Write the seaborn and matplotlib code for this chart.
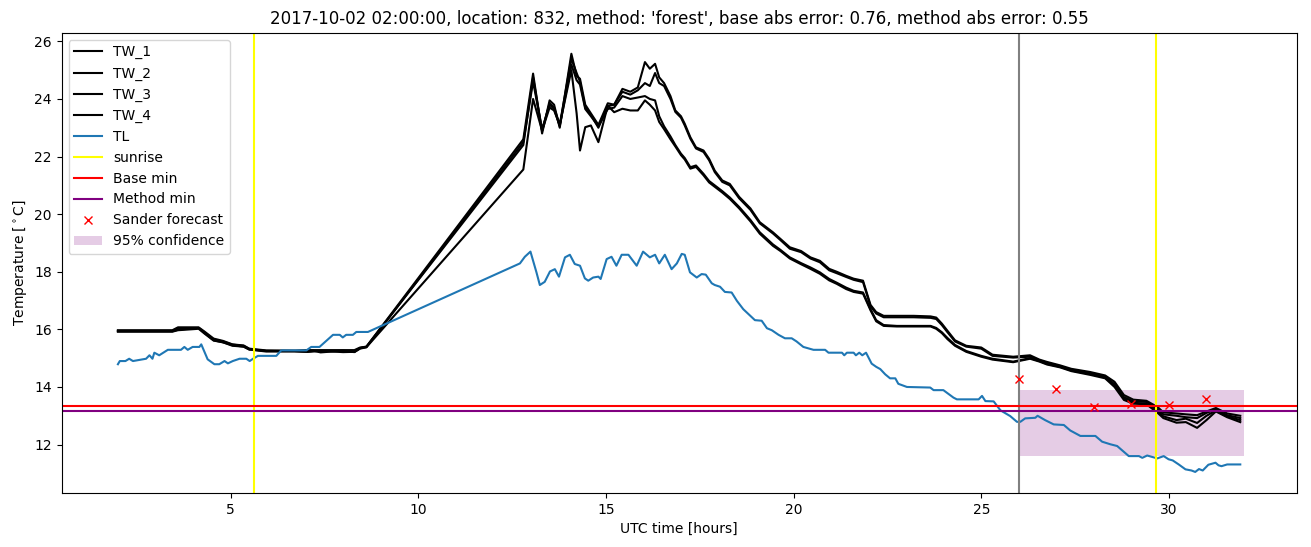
import matplotlib
matplotlib.use("Agg")
import matplotlib.pyplot as plt
import seaborn as sns

# ---------------- data ----------------
tw_hours = [2.0, 3.45, 3.6, 4.15, 4.3, 4.55, 4.8, 5.05, 5.35, 5.5, 5.95, 6.7, 7.05, 7.2, 7.4, 8.0, 8.3, 8.45, 8.62,
            12.8, 13.06, 13.3, 13.5, 13.62, 13.77, 14.08, 14.22, 14.31, 14.45, 14.6, 14.8, 15.05, 15.22, 15.44, 15.65,
            15.85, 16.04, 16.17, 16.31, 16.42, 16.55, 16.72, 16.85, 17.0,
            17.1, 17.25, 17.4, 17.6, 17.75, 17.9, 18.1, 18.3, 18.55, 18.85, 19.1, 19.45, 19.65, 19.9, 20.2, 20.45,
            20.7, 20.95, 21.15, 21.4, 21.6, 21.85, 22.05, 22.2, 22.4, 22.75, 23.2, 23.65, 23.8, 23.95, 24.1, 24.3,
            24.6, 25.0, 25.3, 25.85,
            26.3, 26.55, 26.75, 27.1, 27.4, 27.9, 28.3, 28.55, 28.8, 29.05, 29.4, 29.7, 29.85, 30.2, 30.45, 30.75,
            31.0, 31.25, 31.55, 31.9]

tw_1 = [15.95, 15.95, 16.05, 16.05, 15.9, 15.65, 15.58, 15.47, 15.43, 15.32, 15.25, 15.25, 15.28, 15.28, 15.28, 15.28, 15.28, 15.37, 15.40,
        22.6, 24.88, 22.8, 23.95, 23.8, 23.0, 25.57, 24.8, 24.7, 23.8, 23.5, 23.1, 23.85, 23.8, 24.35, 24.25,
        24.4, 25.28, 25.05, 25.22, 24.75, 24.55, 24.1, 23.6, 23.4,
        23.14, 22.67, 22.32, 22.21, 21.92, 21.51, 21.17, 21.05, 20.6, 20.2, 19.72, 19.37, 19.14, 18.85, 18.72, 18.5,
        18.38, 18.1, 18.0, 17.86, 17.76, 17.69, 16.85, 16.6, 16.47, 16.47, 16.47, 16.45, 16.41, 16.2, 15.95, 15.62,
        15.43, 15.37, 15.12, 15.05,
        15.1, 14.95, 14.87, 14.75, 14.63, 14.52, 14.4, 14.18, 13.72, 13.56, 13.52, 13.3, 13.12, 13.08, 13.05, 13.02,
        13.15, 13.27, 13.08, 13.0]

tw_2 = [15.97, 15.97, 16.07, 16.07, 15.93, 15.68, 15.6, 15.48, 15.44, 15.33, 15.27, 15.26, 15.26, 15.26, 15.2, 15.26, 15.22, 15.35, 15.40,
        22.4, 24.75, 22.9, 23.85, 23.7, 23.1, 25.4, 24.9, 24.6, 23.7, 23.45, 23.0, 23.75, 23.8, 24.25, 24.15,
        24.3, 24.55, 24.45, 24.9, 24.55, 24.45, 24.0, 23.55, 23.35,
        23.08, 22.62, 22.28, 22.16, 21.87, 21.46, 21.12, 21.0, 20.55, 20.15, 19.68, 19.33, 19.1, 18.8, 18.68, 18.46,
        18.33, 18.05, 17.95, 17.82, 17.72, 17.64, 16.8, 16.55, 16.42, 16.42, 16.42, 16.4, 16.36, 16.15, 15.9, 15.58,
        15.4, 15.33, 15.08, 15.02,
        15.05, 14.92, 14.84, 14.72, 14.6, 14.48, 14.36, 14.1, 13.65, 13.5, 13.48, 13.22, 13.05, 13.0, 12.95, 12.92,
        13.1, 13.22, 13.02, 12.92]

tw_3 = [15.93, 15.93, 15.99, 16.05, 15.88, 15.62, 15.55, 15.45, 15.4, 15.3, 15.25, 15.25, 15.22, 15.25, 15.25, 15.25, 15.21, 15.33, 15.38,
        22.5, 24.6, 22.95, 23.8, 23.65, 23.05, 25.2, 24.65, 24.5, 23.65, 23.4, 23.05, 23.65, 23.7, 24.1, 24.0,
        24.05, 24.1, 24.0, 23.95, 23.4, 23.05, 22.7, 22.4, 22.1,
        21.95, 21.63, 21.69, 21.4, 21.15, 21.0, 20.8, 20.58, 20.25, 19.8, 19.37, 18.95, 18.76, 18.5, 18.3, 18.15,
        17.98, 17.75, 17.62, 17.45, 17.34, 17.28, 16.7, 16.32, 16.15, 16.12, 16.12, 16.12, 16.05, 15.9, 15.7, 15.46,
        15.25, 15.08, 14.98, 14.88,
        15.0, 14.9, 14.8, 14.7, 14.57, 14.45, 14.33, 14.05, 13.6, 13.45, 13.42, 13.15, 12.98, 12.85, 12.9, 12.75,
        13.0, 13.18, 12.98, 12.85]

tw_4 = [15.92, 15.92, 15.97, 16.02, 15.86, 15.61, 15.55, 15.43, 15.4, 15.3, 15.23, 15.23, 15.22, 15.23, 15.25, 15.21, 15.22, 15.35, 15.38,
        21.55, 24.0, 22.9, 23.7, 23.6, 23.1, 25.0, 23.5, 22.21, 23.02, 23.08, 22.5, 23.77, 23.54, 23.66, 23.6,
        23.6, 23.95, 23.8, 23.6, 23.2, 22.95, 22.6, 22.35, 22.05,
        21.9, 21.58, 21.64, 21.35, 21.1, 20.95, 20.75, 20.53, 20.2, 19.75, 19.32, 18.9, 18.72, 18.46, 18.26, 18.1,
        17.93, 17.7, 17.58, 17.4, 17.3, 17.24, 16.66, 16.28, 16.12, 16.1, 16.1, 16.1, 16.02, 15.87, 15.66, 15.43,
        15.22, 15.05, 14.95, 14.86,
        14.98, 14.88, 14.78, 14.68, 14.55, 14.42, 14.3, 14.0, 13.55, 13.42, 13.4, 13.1, 12.92, 12.76, 12.78, 12.58,
        12.85, 13.15, 12.95, 12.78]

tl_hours = [2.0, 2.05, 2.2, 2.3, 2.4, 2.75, 2.84, 2.92, 2.97, 3.1, 3.33, 3.68, 3.77, 3.86, 3.99, 4.17, 4.22, 4.39,
            4.57, 4.7, 4.84, 4.93, 5.06, 5.24, 5.42, 5.51, 5.6, 5.73, 6.22, 6.35, 7.02, 7.15, 7.37, 7.55, 7.73, 7.91,
            7.99, 8.08, 8.26, 8.35, 8.66,
            12.71, 12.84, 12.99, 13.15, 13.24, 13.37, 13.51, 13.64, 13.75, 13.91, 14.04, 14.17, 14.31, 14.44, 14.53,
            14.66, 14.8, 14.86, 15.02, 15.15, 15.28, 15.42, 15.6, 15.82, 15.99, 16.17, 16.31, 16.42, 16.57, 16.75,
            16.89, 17.02, 17.1, 17.24, 17.42, 17.55, 17.66, 17.82, 17.9, 18.04,
            18.17, 18.35, 18.49, 18.66, 18.97, 19.15, 19.29, 19.42, 19.6, 19.77, 19.95, 20.08, 20.26, 20.53, 20.84,
            20.93, 21.29, 21.35, 21.42, 21.6, 21.66, 21.75, 21.83, 21.93, 22.08, 22.2, 22.31, 22.44, 22.57, 22.71,
            22.79, 23.02, 23.64, 23.73, 23.99, 24.26, 24.35, 24.93, 25.02, 25.11, 25.33, 25.51, 25.77, 25.95, 26.04,
            26.17, 26.44, 26.5, 26.7, 26.84, 26.93, 27.2, 27.37, 27.64, 28.04, 28.22, 28.44, 28.62, 28.93, 29.2,
            29.29, 29.42, 29.69, 29.86, 29.99, 30.1, 30.26, 30.44, 30.6, 30.7, 30.8, 30.9, 31.05, 31.24, 31.32,
            31.4, 31.55, 31.9]

tl = [14.79, 14.9, 14.9, 14.98, 14.9, 14.98, 15.1, 14.98, 15.19, 15.1, 15.29, 15.29, 15.39, 15.29, 15.39, 15.39, 15.48, 14.96,
      14.79, 14.79, 14.9, 14.82, 14.9, 14.98, 14.98, 14.9, 14.98, 15.08, 15.08, 15.27, 15.27, 15.39, 15.39, 15.6, 15.81, 15.81,
      15.72, 15.81, 15.81, 15.91, 15.91,
      18.29, 18.52, 18.70, 17.98, 17.54, 17.65, 18.01, 18.09, 17.83, 18.5, 18.59, 18.27, 18.21, 17.77, 17.69,
      17.80, 17.83, 17.75, 18.44, 18.52, 18.21, 18.59, 18.59, 18.21, 18.70, 18.50, 18.59, 18.29, 18.59, 18.09,
      18.29, 18.62, 18.59, 17.98, 17.80, 17.92, 17.9, 17.6, 17.54, 17.48,
      17.3, 17.28, 16.99, 16.7, 16.32, 16.30, 16.04, 15.97, 15.81, 15.69, 15.69, 15.58, 15.39, 15.29, 15.29,
      15.19, 15.19, 15.1, 15.19, 15.19, 15.1, 15.19, 15.1, 15.19, 14.81, 14.7, 14.62, 14.44, 14.3, 14.3,
      14.11, 14.0, 13.98, 13.89, 13.89, 13.63, 13.57, 13.57, 13.69, 13.51, 13.5, 13.19, 12.99, 12.79, 12.79,
      12.91, 12.93, 13.0, 12.85, 12.76, 12.70, 12.68, 12.49, 12.30, 12.30, 12.1, 12.01, 11.95, 11.60, 11.6,
      11.54, 11.62, 11.52, 11.6, 11.49, 11.45, 11.31, 11.14, 11.1, 11.05, 11.15, 11.1, 11.3, 11.37, 11.28,
      11.25, 11.31, 11.31]

sunrise_hours = [5.62, 29.65]
forecast_start = 26.0
base_min = 13.34
method_min = 13.17
forecast_hours = [26, 27, 28, 29, 30, 31]
forecast_values = [14.28, 13.93, 13.30, 13.41, 13.37, 13.58]
conf_hours = [26, 32]
conf_low = [11.62, 11.62]
conf_high = [13.90, 13.90]

title = ("2017-10-02 02:00:00, location: 832, method: 'forest', "
         "base abs error: 0.76, method abs error: 0.55")

# ---------------- plot ----------------
fig, ax = plt.subplots(figsize=(13.11, 5.47), dpi=100)
fig.subplots_adjust(left=0.047, right=0.989, top=0.94, bottom=0.099)

for name, vals in [("TW_1", tw_1), ("TW_2", tw_2), ("TW_3", tw_3), ("TW_4", tw_4)]:
    sns.lineplot(x=tw_hours, y=vals, ax=ax, color="black", label=name,
                 estimator=None, sort=False, linewidth=1.5)
sns.lineplot(x=tl_hours, y=tl, ax=ax, color="#1f77b4", label="TL",
             estimator=None, sort=False, linewidth=1.5)

ax.axvline(sunrise_hours[0], color="yellow", label="sunrise")
ax.axvline(sunrise_hours[1], color="yellow")
ax.axvline(forecast_start, color="gray")
ax.axhline(base_min, color="red", label="Base min")
ax.axhline(method_min, color="purple", label="Method min")

sns.lineplot(x=forecast_hours, y=forecast_values, ax=ax, color="red",
             marker="x", linestyle="", markersize=6, markeredgecolor="red",
             markeredgewidth=1.0, label="Sander forecast", estimator=None, sort=False)

ax.fill_between(conf_hours, conf_low, conf_high, color="purple", alpha=0.2,
                linewidth=0, label="95% confidence")

ax.set_xlim(0.5, 33.4)
ax.set_title(title, fontsize=12)
ax.set_xlabel("UTC time [hours]")
ax.set_ylabel(r"Temperature [$^\circ$C]")
ax.legend(loc="upper left")

fig.savefig("out.png", dpi=100)
